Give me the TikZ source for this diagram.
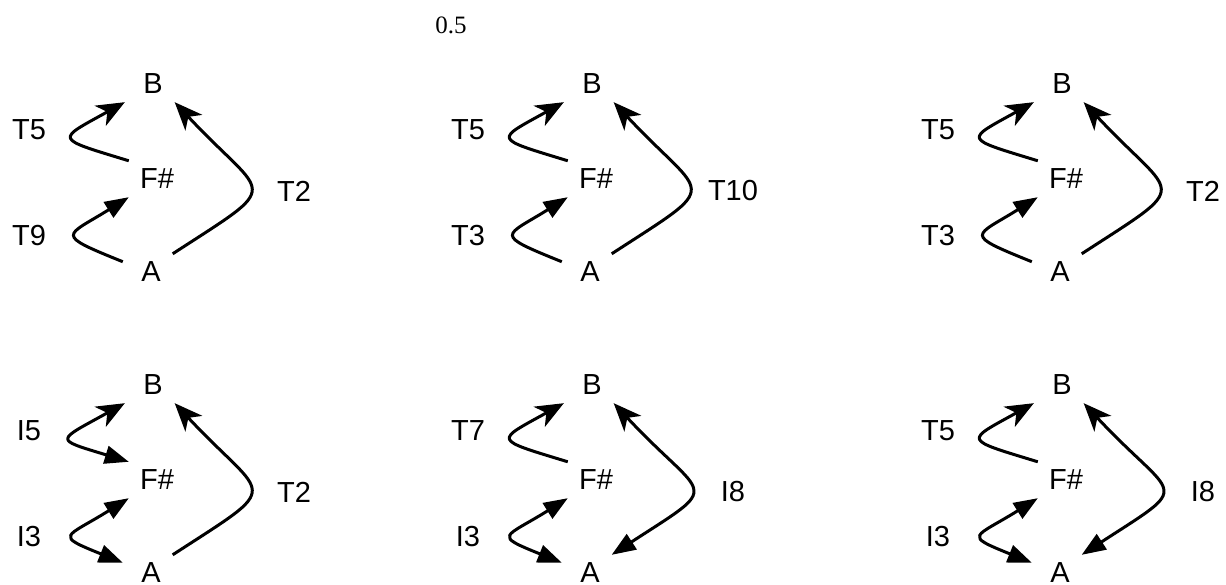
\documentclass[tikz,border=0pt]{standalone}
\usepackage{fontspec}
\setmainfont{Liberation Sans}
\newfontfamily\serifnum{Liberation Serif}
\usetikzlibrary{arrows.meta}
\tikzset{
	bhead/.tip={Stealth[length=28pt,width=23pt,inset=8pt]},
	fhead/.tip={Triangle[length=24pt,width=18pt]},
	pitch/.style={minimum width=56pt,minimum height=36pt,inner sep=0pt},
	move/.style={line width=3pt},
}
\begin{document}
\begin{tikzpicture}[x=1pt,y=1pt,line join=round,font=\fontsize{29}{34}\selectfont]
				\useasboundingbox (0,0) rectangle (1226,584);
				\node (scale) at (451,559) {\serifnum\fontsize{25}{30}\selectfont 0.5};
				% column x / top y / labels / tips of the three moves / id
				\foreach \c/\r/\la/\lb/\lr/\ea/\eb/\ec/\n in {
					153/500/T5/T9/T2/-bhead/-fhead/-bhead/1,
					592/500/T5/T3/T10/-bhead/-fhead/-bhead/2,
					1062/500/T5/T3/T2/-bhead/-fhead/-bhead/3,
					153/199/I5/I3/T2/fhead-bhead/fhead-fhead/-bhead/4,
					592/199/T7/I3/I8/-bhead/fhead-fhead/fhead-bhead/5,
					1062/199/T5/I3/I8/-bhead/fhead-fhead/fhead-bhead/6}
				{
				\node[pitch] (B\n) at (\c,\r) {B};
				\node[pitch] (F\n) at (\c+4,\r-95) {F\#};
				\node[pitch] (A\n) at (\c-2,\r-188) {A};
				\path
				(\c-124,\r-46) node (u\n) {\la}
				(\c-124,\r-152) node (d\n) {\lb}
				(\c+141,\r-107) node (r\n) {\lr}
				;
				\draw[move,arrows/.expanded=\ea] (F\n.north west) to[out=163,in=209,distance=79pt] (B\n.south west);
				\draw[move,arrows/.expanded=\eb] (A\n.160) to[out=158,in=212,distance=75pt] (F\n.south west);
				\draw[move,arrows/.expanded=\ec] (A\n.40) to[out=33,in=313,distance=135pt] (B\n.320);
				}
			\end{tikzpicture}
\end{document}
